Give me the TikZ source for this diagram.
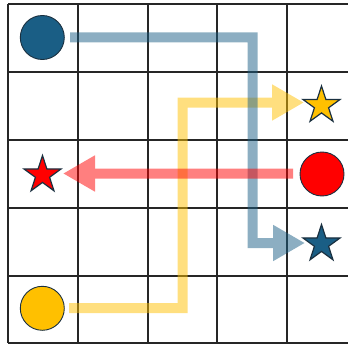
\documentclass[tikz,border=0pt]{standalone}
\usetikzlibrary{shapes.geometric,arrows.meta}
\definecolor{cblue}{HTML}{1A5E85}
\definecolor{cyellow}{HTML}{FFC000}
\definecolor{cred}{HTML}{FF0000}
\definecolor{edge}{HTML}{1A3040}
\begin{document}
\begin{tikzpicture}[x=1pt,y=-1pt,
  gridline/.style={line width=1.3pt,draw=black!85},
  dot/.style={circle,draw=edge,line width=0.9pt,minimum size=44pt,inner sep=0pt},
  starnode/.style={star,star points=5,star point ratio=2.618,draw=edge,line width=1.2pt,minimum size=39pt,inner sep=0pt},
  route/.style={line width=10pt,-{Triangle[length=32pt,width=34pt]}}]
\useasboundingbox (0,0) rectangle (348,345);
\clip (0,0) rectangle (348,345);
% grid
\foreach \xx in {8,78,148,217,287} \draw[gridline] (\xx,4) -- (\xx,343);
\draw[gridline] (357,4) -- (357,343);
\foreach \yy in {4,72,140,208,276,343} \draw[gridline] (8,\yy) -- (360,\yy);
% nodes
\node[dot,fill=cblue] (bc) at (42.3,37.5) {};
\node[dot,fill=cyellow] (yc) at (42.3,308.3) {};
\node[dot,fill=cred] (rc) at (322,174) {};
\node[starnode,fill=cyellow] (ys) at (321.5,105.5) {};
\node[starnode,fill=cred] (rs) at (42.5,175) {};
\node[starnode,fill=cblue] (bs) at (321.5,244) {};
% route coordinates
\coordinate (ya) at (69,308);
\coordinate (yb) at (182.5,308);
\coordinate (yc2) at (182.5,102.5);
\coordinate (yt) at (304,102.5);
\coordinate (ba) at (70,37.5);
\coordinate (bb) at (252.5,37.5);
\coordinate (bb2) at (252.5,243);
\coordinate (bt) at (305,243);
\coordinate (ra) at (293,173.5);
\coordinate (rt) at (63,173.5);
% routes
\begin{scope}[transparency group,opacity=0.5]
\draw[route,color=cyellow] (ya) -- (yb) -- (yc2) -- (yt);
\end{scope}
\begin{scope}[transparency group,opacity=0.5]
\draw[route,color=cblue] (ba) -- (bb) -- (bb2) -- (bt);
\end{scope}
\begin{scope}[transparency group,opacity=0.5]
\draw[route,color=cred] (ra) -- (rt);
\end{scope}
\end{tikzpicture}
\end{document}
